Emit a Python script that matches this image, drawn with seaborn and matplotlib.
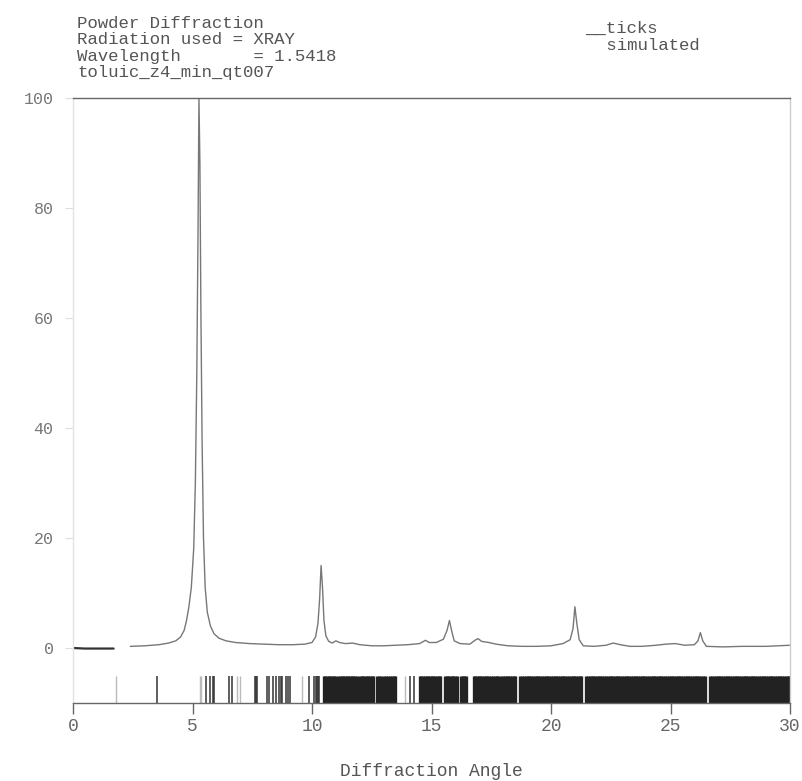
import matplotlib
matplotlib.use("Agg")
import matplotlib.pyplot as plt
import seaborn as sns
import pandas as pd

# ---------------- data ----------------
# measured/simulated profile: low-angle dark segment
lead_angle = [0.0, 0.5, 1.0, 1.7]
lead_int = [0.0, -0.1, -0.1, -0.1]

# main profile
prof_angle = [2.4, 3.0, 3.6, 4.0, 4.3, 4.5, 4.65, 4.75, 4.85, 4.95, 5.05, 5.12, 5.18,
              5.23, 5.27, 5.31, 5.35, 5.40, 5.46, 5.53, 5.62, 5.75, 5.9, 6.1, 6.4,
              6.8, 7.4, 8.0, 8.6, 9.2, 9.7, 10.0, 10.15, 10.25, 10.32, 10.38, 10.44,
              10.5, 10.58, 10.7, 10.85, 11.0, 11.15, 11.4, 11.7, 12.0, 12.5, 13.0,
              13.5, 14.0, 14.5, 14.75, 14.9, 15.2, 15.5, 15.65, 15.75, 15.85, 15.95,
              16.2, 16.6, 16.85, 16.95, 17.1, 17.4, 17.7, 18.2, 18.8, 19.4, 20.0,
              20.5, 20.8, 20.92, 21.0, 21.08, 21.18, 21.35, 21.8, 22.3, 22.6, 22.9,
              23.3, 23.8, 24.4, 24.8, 25.2, 25.6, 26.0, 26.15, 26.25, 26.35, 26.5,
              27.2, 28.0, 29.0, 30.0]
prof_int = [0.3, 0.4, 0.6, 0.9, 1.3, 2.0, 3.2, 5.0, 7.5, 11, 18, 30, 50,
            75, 100, 88, 62, 38, 20, 11, 6.5, 4.0, 2.6, 1.8, 1.3,
            1.0, 0.8, 0.7, 0.6, 0.6, 0.7, 1.0, 2.0, 4.5, 9.0, 15.0, 11.0,
            5.0, 2.2, 1.2, 0.9, 1.3, 1.0, 0.8, 0.9, 0.6, 0.4, 0.4,
            0.5, 0.6, 0.8, 1.4, 1.0, 1.0, 1.6, 3.2, 5.0, 3.0, 1.3,
            0.8, 0.7, 1.5, 1.7, 1.2, 1.0, 0.7, 0.4, 0.3, 0.3, 0.4,
            0.8, 1.5, 3.5, 7.5, 4.5, 1.5, 0.4, 0.3, 0.5, 0.9, 0.6,
            0.3, 0.3, 0.5, 0.7, 0.8, 0.5, 0.6, 1.3, 2.8, 1.3, 0.3,
            0.2, 0.3, 0.3, 0.5]

# simulated reflection ticks (2-theta positions)
faint_ticks = [1.8, 5.3, 5.35, 6.85, 7.0, 9.6, 13.9]
sparse_ticks = [
    3.5, 5.55, 5.74, 5.85, 5.9, 6.52, 6.67, 7.6, 7.65, 7.7, 8.12, 8.2, 8.35, 8.5,
    8.62, 8.7, 8.75, 8.92, 8.98, 9.08, 9.88, 10.1, 10.15, 10.2, 10.27, 10.3,
    14.1, 14.25]
dense_ticks = [
    10.5, 10.55, 10.62, 10.7, 10.76, 10.83, 10.9, 10.97,
    11.1, 11.16, 11.24, 11.3, 11.37, 11.45, 11.52, 11.58, 11.66, 11.73, 11.8, 11.88,
    12.02, 12.08, 12.15, 12.23, 12.3, 12.36, 12.44, 12.5, 12.57,
    12.72, 12.8, 12.88, 13.02, 13.08,
    13.2, 13.27, 13.35, 13.42, 13.48,
    14.52, 14.58, 14.66, 14.73, 14.8, 14.86, 14.94, 15.0, 15.08, 15.15, 15.22, 15.3, 15.37,
    15.56, 15.63, 15.7, 15.78, 15.85, 15.92, 16.0, 16.05,
    16.22, 16.3, 16.37, 16.44,
    16.76, 16.83, 16.9, 16.98, 17.05, 17.12, 17.2, 17.27, 17.34, 17.42, 17.5, 17.56,
    17.64, 17.72, 17.79,
    17.92, 18.0, 18.07, 18.14, 18.22, 18.3, 18.37, 18.44, 18.5,
    18.72, 18.8, 18.87, 18.95, 19.02, 19.1, 19.17, 19.25, 19.32, 19.4, 19.47, 19.55,
    19.62, 19.7, 19.77, 19.85, 19.92, 20.0, 20.07, 20.15, 20.22, 20.3, 20.37, 20.45,
    20.52, 20.6, 20.67, 20.75, 20.82, 20.9, 20.97, 21.05, 21.12, 21.2, 21.25,
    21.47, 21.55, 21.62, 21.7, 21.77, 21.85, 21.92, 22.0, 22.07, 22.15, 22.22, 22.3,
    22.37, 22.45, 22.52, 22.6, 22.67, 22.75, 22.82, 22.9, 22.97, 23.05, 23.12, 23.2,
    23.27, 23.35, 23.42, 23.5, 23.57, 23.65, 23.72, 23.8, 23.87, 23.95, 24.02, 24.1,
    24.17, 24.25, 24.32, 24.4, 24.47, 24.55, 24.62, 24.7, 24.77, 24.85, 24.92, 25.0,
    25.07, 25.15, 25.22, 25.3, 25.37, 25.45, 25.52, 25.6, 25.67, 25.75, 25.82, 25.9,
    25.97, 26.05, 26.12, 26.2, 26.27, 26.35, 26.43,
    26.67, 26.75, 26.82, 26.9, 26.97, 27.05, 27.12, 27.2, 27.27, 27.35, 27.42, 27.5,
    27.57, 27.65, 27.72, 27.8, 27.87, 27.95, 28.02, 28.1, 28.17, 28.25, 28.32, 28.4,
    28.47, 28.55, 28.62, 28.7, 28.77, 28.85, 28.92, 29.0, 29.07, 29.15, 29.22, 29.3,
    29.37, 29.45, 29.52, 29.6, 29.67, 29.75, 29.82, 29.9, 29.97]

x_ticks = [0, 5, 10, 15, 20, 25, 30]
y_ticks = [0, 20, 40, 60, 80, 100]

header_lines = ["Powder Diffraction", "Radiation used = XRAY",
                "Wavelength       = 1.5418", "toluic_z4_min_qt007"]
legend_lines = ["__ticks", " simulated"]
x_label = "Diffraction Angle"

# ---------------- plot ----------------
sns.set_theme(style="white")
plt.rcParams["font.family"] = ["Liberation Mono", "DejaVu Sans Mono"]

fig = plt.figure(figsize=(8.02, 7.81), dpi=100)
ax = fig.add_axes([73 / 802, 1 - 703 / 781, (790 - 73) / 802, (703 - 98) / 781])

lead_df = pd.DataFrame({"angle": lead_angle, "intensity": lead_int})
prof_df = pd.DataFrame({"angle": prof_angle, "intensity": prof_int})

sns.lineplot(data=lead_df, x="angle", y="intensity", ax=ax, color="#333333",
             linewidth=1.6, sort=False)
sns.lineplot(data=prof_df, x="angle", y="intensity", ax=ax, color="#777777",
             linewidth=1.0, sort=False)

rug_h = 5 / 110
sns.rugplot(x=dense_ticks, ax=ax, height=rug_h, color="#222222", linewidth=2.4,
            expand_margins=False)
sns.rugplot(x=sparse_ticks, ax=ax, height=rug_h, color="#333333", linewidth=1.1,
            expand_margins=False)
sns.rugplot(x=faint_ticks, ax=ax, height=rug_h, color="#bbbbbb", linewidth=1.0,
            expand_margins=False)

ax.set_xlim(0, 30)
ax.set_ylim(-10, 100)
ax.set_xticks(x_ticks)
ax.set_xticklabels([str(v) for v in x_ticks])
ax.set_yticks(y_ticks)
ax.set_yticklabels([str(v) for v in y_ticks])

for side, col in [("top", "#666666"), ("bottom", "#666666"),
                  ("left", "#e3e3e3"), ("right", "#cccccc")]:
    ax.spines[side].set_visible(True)
    ax.spines[side].set_color(col)
    ax.spines[side].set_linewidth(1.0)

ax.tick_params(axis="x", direction="out", length=8, width=1.0, color="#666666",
               labelsize=13, labelcolor="#666666", pad=3, bottom=True)
ax.tick_params(axis="y", direction="out", length=6, width=0.8, color="#dddddd",
               labelsize=12, labelcolor="#777777", pad=8, left=True)
ax.set_xlabel(x_label, fontsize=13, color="#555555", labelpad=20)
ax.set_ylabel("")
ax.grid(False)

ys = [24, 40, 56, 72]
for txt, yp in zip(header_lines, ys):
    fig.text(77 / 802, 1 - yp / 781, txt, fontsize=12.5, color="#555555",
             va="center", ha="left")
fig.text(585 / 802, 1 - 28 / 781, legend_lines[0], fontsize=12.5, color="#555555",
         va="center", ha="left")
fig.text(596 / 802, 1 - 45 / 781, legend_lines[1], fontsize=12.5, color="#555555",
         va="center", ha="left")

fig.savefig("out.png", dpi=100, facecolor="white")
